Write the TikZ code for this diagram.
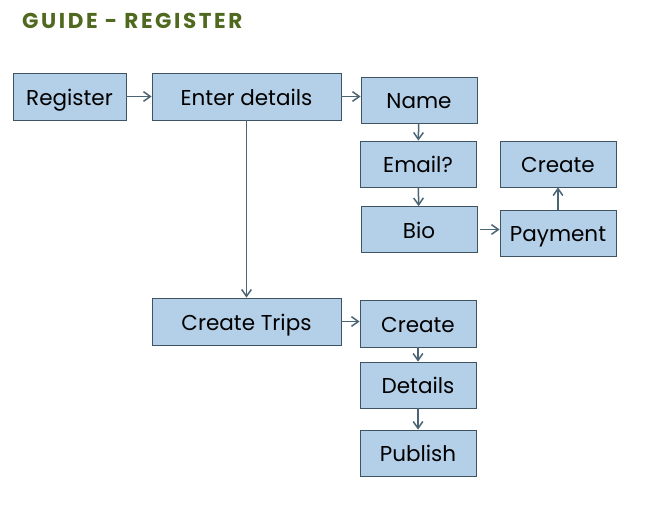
\documentclass[tikz,border=0pt]{standalone}
\usepackage{fontspec}
\setmainfont{Poppins}
\usepackage{tikz}
\usetikzlibrary{arrows.meta,positioning}
\definecolor{GuideGreen}{RGB}{79,106,31}
\definecolor{BoxFill}{RGB}{180,207,232}
\definecolor{BoxLine}{RGB}{62,84,98}
\definecolor{ArrLine}{RGB}{74,101,116}

\begin{document}
\begin{tikzpicture}[x=1pt, y=-1pt, every node/.style={font=\fontsize{21.5}{25}\selectfont}, box/.style={draw=BoxLine,fill=BoxFill,line width=0.8pt,minimum width=116pt,minimum height=46pt,inner sep=0pt,text height=17pt,text depth=0pt,align=center}, wide/.style={box,minimum width=189pt,minimum height=47pt}, arr/.style={-{Straight Barb[length=2.4mm,width=3.4mm]},line width=1.5pt,ArrLine}]
\useasboundingbox (0,0) rectangle (647,528);
\node[anchor=west,inner sep=0pt,text=GuideGreen,font=\fontsize{21.5}{24}\selectfont\bfseries\addfontfeatures{LetterSpace=12}] (title) at (22,21) {GUIDE - REGISTER};
% register column
\node[box,minimum width=113pt,minimum height=47pt] (reg) at (69.5,96.5) {Register};
\node[wide] (details) at (246.5,96.5) {Enter details};
\node[box] (name) at (419,100) {Name};
\node[box] (email) at (418,164) {Email?};
\node[box] (bio) at (419,229.5) {Bio};
\node[box] (pay) at (558,233) {Payment};
\node[box] (create) at (558,164) {Create};
% trips column
\node[wide] (trips) at (246.5,321.5) {Create Trips};
\node[box,minimum height=47pt] (tcreate) at (418,323.5) {Create};
\node[box] (tdetails) at (418,385) {Details};
\node[box] (publish) at (418,453) {Publish};
\draw[arr] (reg) -- (details);
\draw[arr] (details.east) -- (details.east -| name.west);
\draw[arr] (details) -- (trips);
\draw[arr] (name) -- (email);
\draw[arr] (email) -- (bio);
\draw[arr,shorten <=3pt] (bio.east) -- (bio.east -| pay.west);
\draw[arr] (pay) -- (create);
\draw[arr] (trips.east) -- (trips.east -| tcreate.west);
\draw[arr] (tcreate) -- (tdetails);
\draw[arr] (tdetails) -- (publish);
\end{tikzpicture}
\end{document}
